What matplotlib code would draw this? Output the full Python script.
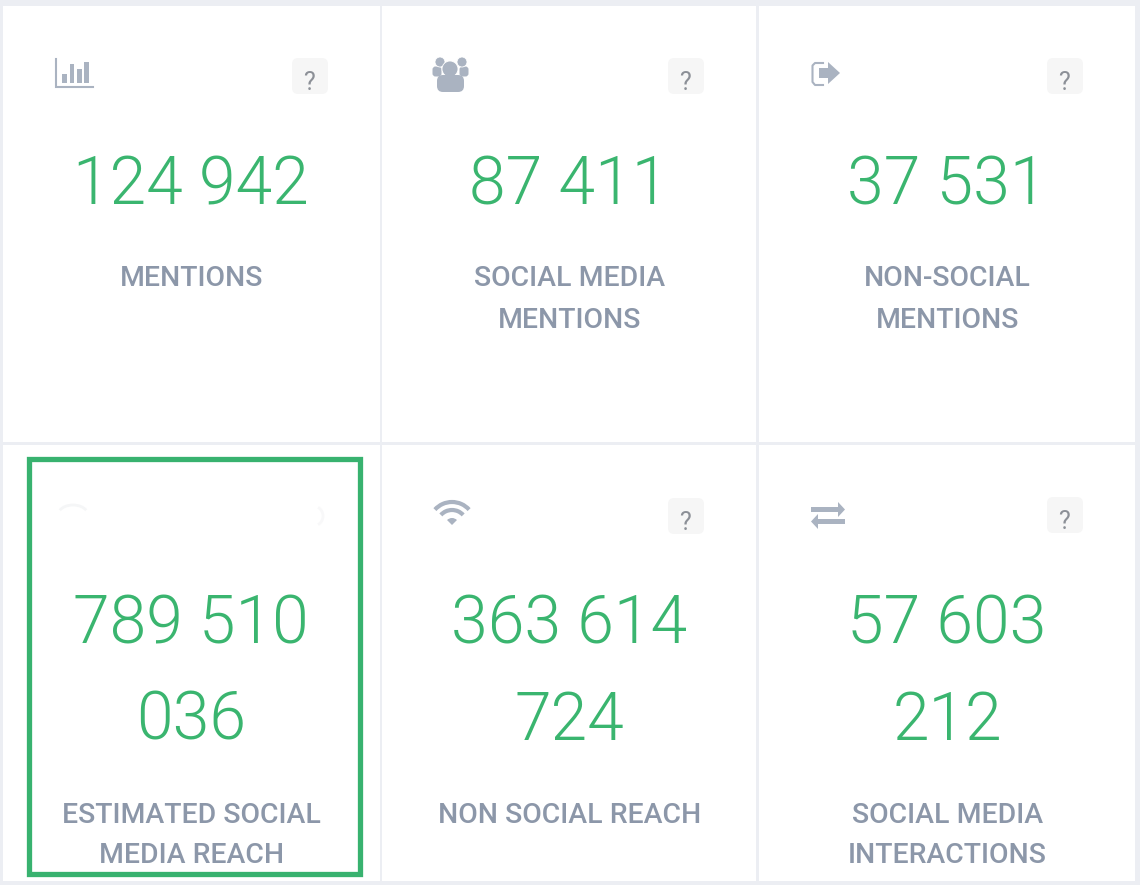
import matplotlib.pyplot as plt
from matplotlib.patches import Rectangle, FancyBboxPatch, Circle, Polygon, Wedge, Arc

# card contents, left to right, top to bottom
values = [["124 942"], ["87 411"], ["37 531"],
          ["789 510", "036"], ["363 614", "724"], ["57 603", "212"]]
labels = [["MENTIONS"], ["SOCIAL MEDIA", "MENTIONS"], ["NON-SOCIAL", "MENTIONS"],
          ["ESTIMATED SOCIAL", "MEDIA REACH"], ["NON SOCIAL REACH"], ["SOCIAL MEDIA", "INTERACTIONS"]]

GREEN = '#3ab56f'
GREY = '#8c97a9'
ICON = '#aab3c1'
BG = '#eceef3'

plt.rcParams['font.family'] = ['Roboto', 'DejaVu Sans']

fig = plt.figure(figsize=(11.4, 8.85), dpi=100)
fig.patch.set_facecolor(BG)
ax = fig.add_axes([0, 0, 1, 1])
ax.set_xlim(0, 1140)
ax.set_ylim(885, 0)
ax.set_axis_off()

# 1. CARDS
col_x = [(3, 380), (382, 756), (759, 1135)]
row_y = [(6, 442), (445, 881)]
centers = [191, 569, 947]
help_boxes = [(292, 58), (668, 58), (1047, 58), None, (668, 498), (1047, 497)]

for r, (y0, y1) in enumerate(row_y):
    for c, (x0, x1) in enumerate(col_x):
        ax.add_patch(Rectangle((x0, y0), x1 - x0, y1 - y0, fc='white', ec='none'))

# 2. NUMBERS AND LABELS
num_base = [[204.5], [644, 740]]
lab_base = [[286, 328], [823, 863]]
for i in range(6):
    r, c = divmod(i, 3)
    for line, base in zip(values[i], num_base[r]):
        ax.text(centers[c], base, line, ha='center', va='baseline', fontsize=47.5,
                color=GREEN, weight=300)
    bases = lab_base[r]
    for line, base in zip(labels[i], bases):
        ax.text(centers[c] + 0.5, base, line, ha='center', va='baseline', fontsize=20.4,
                color=GREY, weight='medium')

# 3. HELP BUTTONS
for box in help_boxes:
    if box is None:
        continue
    x, y = box
    ax.add_patch(FancyBboxPatch((x + 6, y + 6), 24, 24, boxstyle='round,pad=6,rounding_size=6',
                                fc='#f6f6f6', ec='none'))
    ax.text(x + 17, y + 32, '?', ha='center', va='baseline', fontsize=18,
            color='#8c9097', weight='normal')

# 4. ICONS
# bar chart
ax.plot([55.5, 55.5, 93], [59, 87, 87], color=ICON, lw=1.5, solid_joinstyle='miter')
for bx, top in zip([62, 69.5, 77, 84], [74, 64, 69, 62]):
    ax.add_patch(Rectangle((bx, top), 4.5, 83 - top, fc=ICON, ec='none'))

# people
ax.add_patch(FancyBboxPatch((434, 68), 6, 7, boxstyle='round,pad=1.5,rounding_size=3', fc=ICON, ec='none'))
ax.add_patch(FancyBboxPatch((461, 68), 6, 7, boxstyle='round,pad=1.5,rounding_size=3', fc=ICON, ec='none'))
for cx, cy, rad in [(440, 62, 5), (462, 62, 5), (450, 69, 8)]:
    ax.add_patch(Circle((cx, cy), rad, fc=ICON, ec='white', lw=0.6))
ax.add_patch(FancyBboxPatch((443, 81), 15, 5, boxstyle='round,pad=6,rounding_size=6', fc=ICON, ec='none'))

# sign out arrow
ax.plot([823, 815, 812.5, 812.5, 815, 823], [63, 63, 65.5, 82, 85, 85], color=ICON, lw=1.5)
ax.add_patch(Polygon([(819, 68), (828, 68), (828, 62), (840, 73), (828, 84), (828, 78), (819, 78)],
                     fc=ICON, ec='none'))

# wifi
ax.add_patch(Wedge((452, 525), 7, 225, 315, fc=ICON, ec='none'))
for rad in [15, 23]:
    ax.add_patch(Arc((452, 525), rad * 2, rad * 2, theta1=222, theta2=318, color=ICON, lw=3))

# retweet arrows
ax.add_patch(Polygon([(811, 507), (838, 507), (838, 502), (845, 509.5), (838, 517), (838, 512), (811, 512)],
                     fc=ICON, ec='none'))
ax.add_patch(Polygon([(845, 519), (818, 519), (818, 514), (811, 521.5), (818, 529), (818, 524), (845, 524)],
                     fc=ICON, ec='none'))

# faded icon and button under the highlight
ax.add_patch(Arc((73, 515), 30, 20, theta1=200, theta2=340, color='#f5f6f7', lw=2))
ax.add_patch(Arc((313, 516), 20, 20, theta1=-60, theta2=60, color='#f8f8f9', lw=2))

# 5. HIGHLIGHT FRAME
ax.add_patch(Rectangle((28.5, 458.5), 331, 415, fc='none', ec='#38b26f', lw=3.8, joinstyle='miter'))

fig.savefig('out.png', dpi=100, facecolor=fig.get_facecolor())
